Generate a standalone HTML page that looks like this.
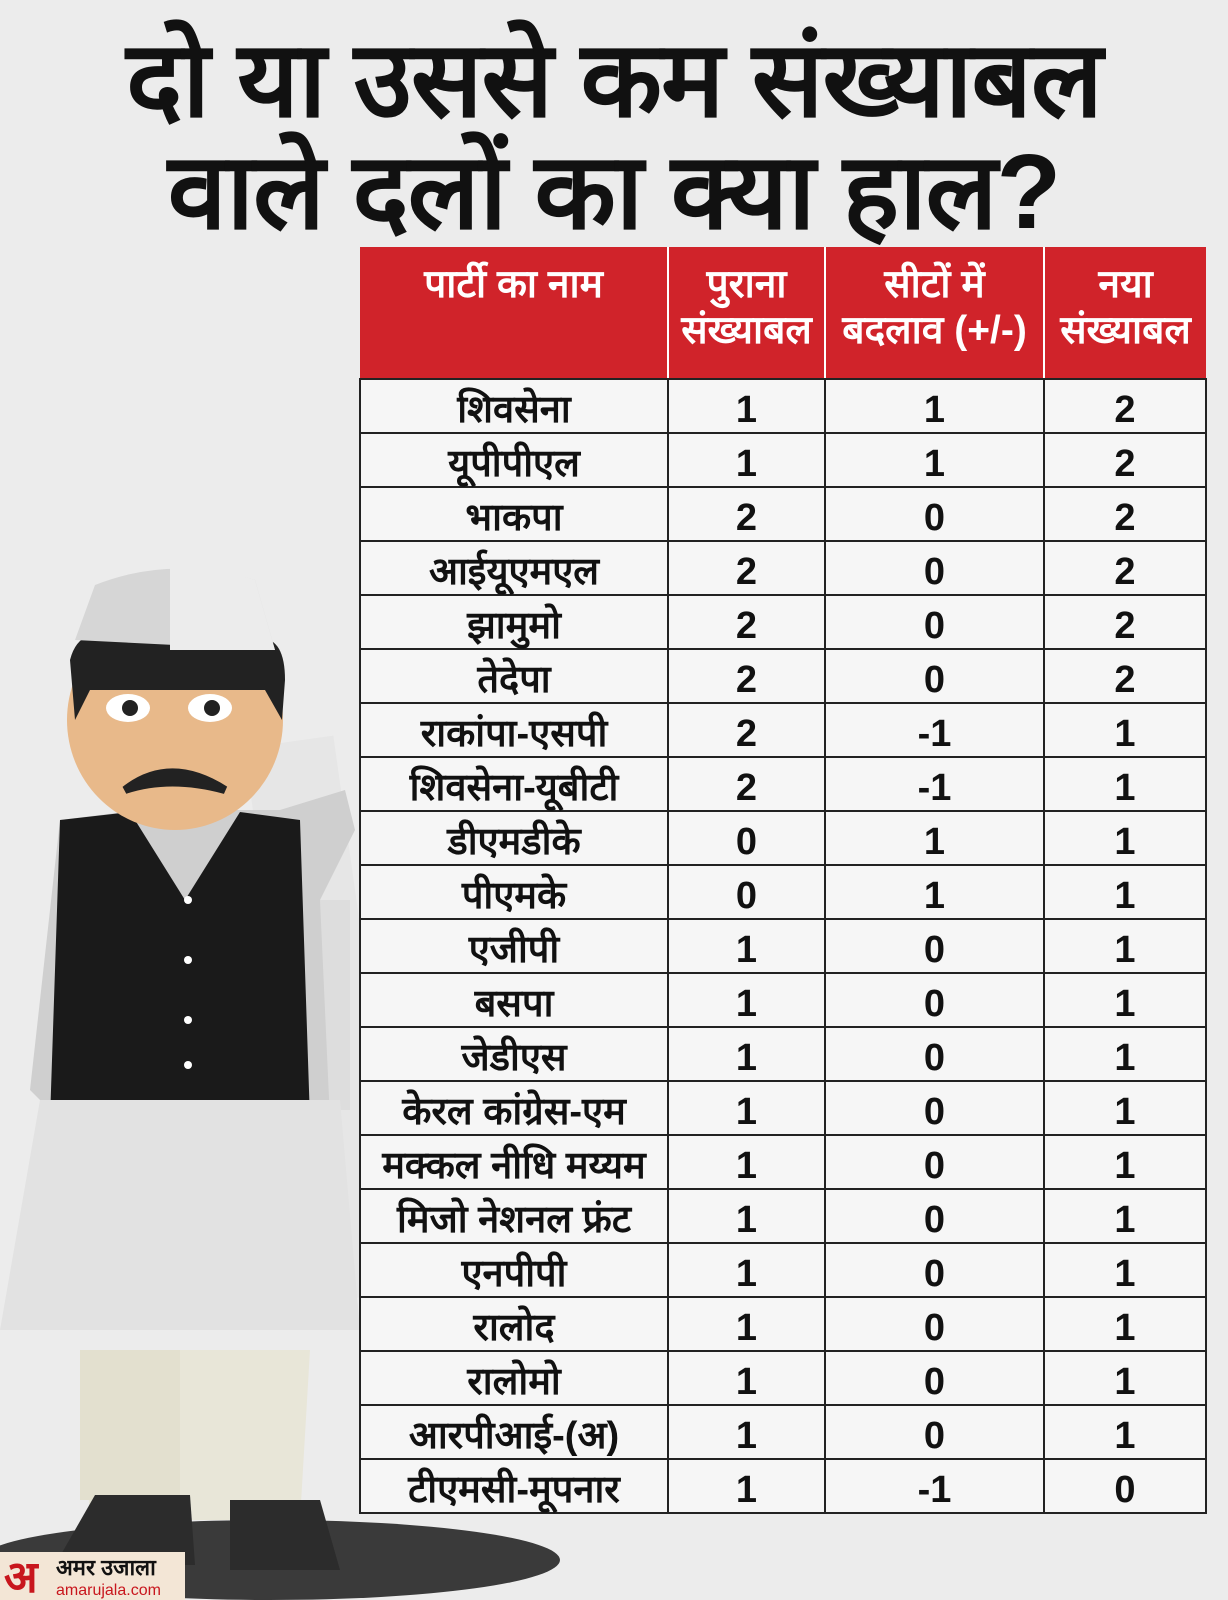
<!DOCTYPE html>
<html><head><meta charset="utf-8"><style>
body{margin:0;width:1228px;height:1600px;background:#ececec;overflow:hidden;position:relative;font-family:"Liberation Sans","DejaVu Sans",sans-serif}
.title{position:absolute;left:0;width:1228px;text-align:center;font-weight:900;color:#111;font-size:106px;line-height:112px;letter-spacing:-1px}
table{position:absolute;left:359px;top:247px;width:846px;border-collapse:collapse;table-layout:fixed}
th{background:#d0232a;color:#fff;font-weight:600;font-size:39px;line-height:46px;height:116px;vertical-align:top;padding:15px 0 0;border:2px solid #fff;border-top:none;border-bottom:2px solid #222}
th:first-child{border-left:none}th:last-child{border-right:none}
tr.r{height:54px}
td{background:#f6f6f6;border:2px solid #222;text-align:center;font-size:38px;font-weight:600;color:#111;padding:0;line-height:44px;vertical-align:bottom}
</style></head><body>
<svg width="1228" height="1600" style="position:absolute;left:0;top:0">
<ellipse cx="270" cy="1560" rx="290" ry="40" fill="#3a3a3a"/>
<rect x="280" y="740" width="90" height="560" fill="#e6e6e6" transform="rotate(-8 320 1000)"/>
<path d="M290 900 L350 900 L350 1110 L300 1110Z" fill="#ddd"/>
<path d="M80 1350 L310 1350 L300 1520 L90 1520Z" fill="#e8e6d8"/>
<rect x="80" y="1350" width="100" height="150" fill="#e3e0cf"/>
<path d="M95 1495 L190 1495 L195 1565 L55 1565Z" fill="#2c2c2c"/>
<path d="M230 1500 L320 1500 L340 1570 L230 1570Z" fill="#2c2c2c"/>
<path d="M60 820 L140 810 L280 810 L345 790 L355 830 L320 900 L330 1120 L60 1120 L30 1090Z" fill="#cfcfcf"/>
<path d="M60 820 L130 812 L185 900 L240 812 L300 820 L310 1120 L50 1120Z" fill="#1a1a1a"/>
<path d="M40 1100 L340 1100 L360 1330 L0 1330Z" fill="#e2e2e2"/>
<circle cx="188" cy="900" r="4" fill="#fff"/><circle cx="188" cy="960" r="4" fill="#fff"/><circle cx="188" cy="1020" r="4" fill="#fff"/><circle cx="188" cy="1065" r="4" fill="#fff"/>
<rect x="150" y="760" width="60" height="60" fill="#e8b98a"/>
<ellipse cx="175" cy="720" rx="108" ry="110" fill="#e8b98a"/>
<path d="M70 660 Q80 620 130 640 L250 640 Q285 630 285 680 L282 720 L265 690 L90 690 L75 720Z" fill="#222"/>
<path d="M75 640 L95 585 Q170 555 255 580 L275 650 Z" fill="#d6d6d6"/>
<path d="M170 565 Q225 570 255 580 L275 650 L170 650Z" fill="#ececec"/>
<ellipse cx="128" cy="708" rx="22" ry="14" fill="#fff"/><circle cx="130" cy="708" r="8" fill="#222"/>
<ellipse cx="210" cy="708" rx="22" ry="14" fill="#fff"/><circle cx="212" cy="708" r="8" fill="#222"/>
<path d="M125 790 Q170 755 225 790 Q170 775 125 790Z" fill="#222" stroke="#222" stroke-width="8"/>
<rect x="0" y="1552" width="185" height="48" fill="#f3e6d6"/>
<text x="4" y="1592" font-size="44" font-weight="900" fill="#c8161d" font-family="DejaVu Sans,sans-serif">अ</text>
<text x="56" y="1575" font-size="22" font-weight="900" fill="#111">अमर उजाला</text>
<text x="56" y="1595" font-size="16" fill="#c8161d">amarujala.com</text>
</svg>
<div class="title" style="top:24px">दो या उससे कम संख्याबल</div>
<div class="title" style="top:136px">वाले दलों का क्या हाल?</div>
<table>
<colgroup><col style="width:308px"><col style="width:157px"><col style="width:219px"><col style="width:162px"></colgroup>
<tr><th>पार्टी का नाम</th><th>पुराना<br>संख्याबल</th><th>सीटों में<br>बदलाव (+/-)</th><th>नया<br>संख्याबल</th></tr>
<tr class="r"><td>शिवसेना</td><td>1</td><td>1</td><td>2</td></tr>
<tr class="r"><td>यूपीपीएल</td><td>1</td><td>1</td><td>2</td></tr>
<tr class="r"><td>भाकपा</td><td>2</td><td>0</td><td>2</td></tr>
<tr class="r"><td>आईयूएमएल</td><td>2</td><td>0</td><td>2</td></tr>
<tr class="r"><td>झामुमो</td><td>2</td><td>0</td><td>2</td></tr>
<tr class="r"><td>तेदेपा</td><td>2</td><td>0</td><td>2</td></tr>
<tr class="r"><td>राकांपा-एसपी</td><td>2</td><td>-1</td><td>1</td></tr>
<tr class="r"><td>शिवसेना-यूबीटी</td><td>2</td><td>-1</td><td>1</td></tr>
<tr class="r"><td>डीएमडीके</td><td>0</td><td>1</td><td>1</td></tr>
<tr class="r"><td>पीएमके</td><td>0</td><td>1</td><td>1</td></tr>
<tr class="r"><td>एजीपी</td><td>1</td><td>0</td><td>1</td></tr>
<tr class="r"><td>बसपा</td><td>1</td><td>0</td><td>1</td></tr>
<tr class="r"><td>जेडीएस</td><td>1</td><td>0</td><td>1</td></tr>
<tr class="r"><td>केरल कांग्रेस-एम</td><td>1</td><td>0</td><td>1</td></tr>
<tr class="r"><td>मक्कल नीधि मय्यम</td><td>1</td><td>0</td><td>1</td></tr>
<tr class="r"><td>मिजो नेशनल फ्रंट</td><td>1</td><td>0</td><td>1</td></tr>
<tr class="r"><td>एनपीपी</td><td>1</td><td>0</td><td>1</td></tr>
<tr class="r"><td>रालोद</td><td>1</td><td>0</td><td>1</td></tr>
<tr class="r"><td>रालोमो</td><td>1</td><td>0</td><td>1</td></tr>
<tr class="r"><td>आरपीआई-(अ)</td><td>1</td><td>0</td><td>1</td></tr>
<tr class="r"><td>टीएमसी-मूपनार</td><td>1</td><td>-1</td><td>0</td></tr>
</table>
</body></html>
